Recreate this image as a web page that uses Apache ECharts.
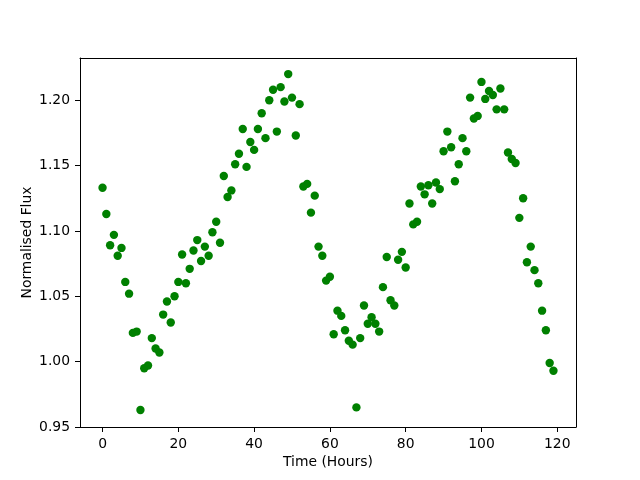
<!DOCTYPE html>
<html>
<head>
<meta charset="utf-8">
<script src="https://cdn.jsdelivr.net/npm/echarts@6/dist/echarts.min.js"></script>
<style>html,body{margin:0;padding:0;background:#fff;}#chart{width:640px;height:480px;}</style>
</head>
<body>
<div id="chart"></div>
<script>
// Time in hours (one sample per hour)
const times = [];
for (let i = 0; i < 120; i++) times.push(i);

// Normalised flux values
const flux = [
  1.133, 1.113, 1.089, 1.097, 1.081, 1.087, 1.061, 1.052, 1.022, 1.023,
  0.963, 0.995, 0.997, 1.018, 1.010, 1.007, 1.036, 1.046, 1.030, 1.050,
  1.061, 1.082, 1.060, 1.071, 1.085, 1.093, 1.077, 1.088, 1.081, 1.099,
  1.107, 1.091, 1.142, 1.126, 1.131, 1.151, 1.159, 1.178, 1.149, 1.168,
  1.162, 1.178, 1.190, 1.171, 1.200, 1.208, 1.176, 1.210, 1.199, 1.220,
  1.202, 1.173, 1.197, 1.134, 1.136, 1.114, 1.127, 1.088, 1.081, 1.062,
  1.065, 1.021, 1.039, 1.035, 1.024, 1.016, 1.013, 0.965, 1.018, 1.043,
  1.029, 1.034, 1.029, 1.023, 1.057, 1.080, 1.047, 1.043, 1.078, 1.084,
  1.072, 1.121, 1.105, 1.107, 1.134, 1.128, 1.135, 1.121, 1.137, 1.132,
  1.161, 1.176, 1.164, 1.138, 1.151, 1.171, 1.161, 1.202, 1.186, 1.188,
  1.214, 1.201, 1.207, 1.204, 1.193, 1.209, 1.193, 1.160, 1.155, 1.152,
  1.110, 1.125, 1.076, 1.088, 1.070, 1.060, 1.039, 1.024, 0.999, 0.993
];

const xTicks = [0, 20, 40, 60, 80, 100, 120];
const yTicks = [0.95, 1.00, 1.05, 1.10, 1.15, 1.20];

const xLabel = 'Time (Hours)';
const yLabel = 'Normalised Flux';

const points = times.map((t, i) => [t, flux[i]]);

const FONT = 'DejaVu Sans';
const FS = 13.9;

const chart = echarts.init(document.getElementById('chart'), null, {renderer: 'canvas'});
chart.setOption({
  animation: false,
  backgroundColor: '#ffffff',
  grid: {left: 80, right: 64, top: 58, bottom: 53, containLabel: false},
  xAxis: [{
    type: 'value', min: -5.95, max: 124.95,
    name: xLabel, nameLocation: 'middle', nameGap: 28, nameMoveOverlap: false,
    nameTextStyle: {fontFamily: FONT, fontSize: FS, color: '#000'},
    axisLine: {show: true, onZero: false, lineStyle: {color: '#000', width: 1}},
    axisTick: {show: true, inside: false, length: 5, customValues: xTicks, lineStyle: {color: '#000', width: 1}},
    axisLabel: {show: true, margin: 10, customValues: xTicks, fontFamily: FONT, fontSize: FS, color: '#000',
      formatter: v => String(Math.round(v))},
    splitLine: {show: false}
  }, {
    type: 'value', min: -5.95, max: 124.95, position: 'top',
    axisLine: {show: true, onZero: false, lineStyle: {color: '#000', width: 1}},
    axisTick: {show: false}, axisLabel: {show: false}, splitLine: {show: false}
  }],
  yAxis: [{
    type: 'value', min: 0.95, max: 1.2323,
    name: yLabel, nameLocation: 'middle', nameGap: 46, nameRotate: 90, nameMoveOverlap: false,
    nameTextStyle: {fontFamily: FONT, fontSize: FS, color: '#000'},
    axisLine: {show: true, onZero: false, lineStyle: {color: '#000', width: 1}},
    axisTick: {show: true, inside: false, length: 5, customValues: yTicks, lineStyle: {color: '#000', width: 1}},
    axisLabel: {show: true, margin: 10, customValues: yTicks, fontFamily: FONT, fontSize: FS, color: '#000',
      showMinLabel: true, formatter: v => v.toFixed(2)},
    splitLine: {show: false}
  }, {
    type: 'value', min: 0.95, max: 1.2323, position: 'right',
    axisLine: {show: true, onZero: false, lineStyle: {color: '#000', width: 1}},
    axisTick: {show: false}, axisLabel: {show: false}, splitLine: {show: false}
  }],
  series: [{
    type: 'scatter',
    xAxisIndex: 0, yAxisIndex: 0,
    data: points,
    symbol: 'circle',
    symbolSize: 8.4,
    itemStyle: {color: '#008000', opacity: 1},
    emphasis: {disabled: true}
  }]
});
</script>
</body>
</html>
